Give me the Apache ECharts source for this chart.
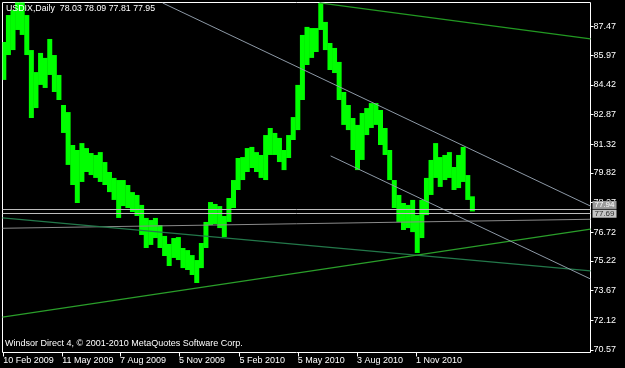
<!DOCTYPE html>
<html><head><meta charset="utf-8">
<script src="https://cdn.jsdelivr.net/npm/echarts@6/dist/echarts.min.js"></script>
<style>html,body{margin:0;padding:0;background:#000;}#c{width:625px;height:368px;}</style>
</head><body><div id="c"></div>
<script>
// ---- data (weekly ranges of the daily bars) ----
const weekDates = [
 '2009-02-11','2009-02-18','2009-02-25','2009-03-04','2009-03-11','2009-03-18','2009-03-25',
 '2009-04-01','2009-04-08','2009-04-15','2009-04-22','2009-04-29','2009-05-06','2009-05-13',
 '2009-05-20','2009-05-27','2009-06-03','2009-06-10','2009-06-17','2009-06-24','2009-07-01',
 '2009-07-08','2009-07-15','2009-07-22','2009-07-29','2009-08-05','2009-08-12','2009-08-19',
 '2009-08-26','2009-09-02','2009-09-09','2009-09-16','2009-09-23','2009-09-30','2009-10-07',
 '2009-10-14','2009-10-21','2009-10-28','2009-11-04','2009-11-11','2009-11-18','2009-11-25',
 '2009-12-02','2009-12-09','2009-12-16','2009-12-23','2009-12-30','2010-01-06','2010-01-13',
 '2010-01-20','2010-01-27','2010-02-03','2010-02-10','2010-02-17','2010-02-24','2010-03-03',
 '2010-03-10','2010-03-17','2010-03-24','2010-03-31','2010-04-07','2010-04-14','2010-04-21',
 '2010-04-28','2010-05-05','2010-05-12','2010-05-19','2010-05-26','2010-06-02','2010-06-09',
 '2010-06-16','2010-06-23','2010-06-30','2010-07-07','2010-07-14','2010-07-21','2010-07-28',
 '2010-08-04','2010-08-11','2010-08-18','2010-08-25','2010-09-01','2010-09-08','2010-09-15',
 '2010-09-22','2010-09-29','2010-10-06','2010-10-13','2010-10-20','2010-10-27','2010-11-03',
 '2010-11-10','2010-11-17','2010-11-24','2010-12-01','2010-12-08','2010-12-15','2010-12-22',
 '2010-12-29','2011-01-05','2011-01-12','2011-01-19','2011-01-26'
];
const weekHigh = [
 86.66,88.07,88.33,89.20,88.90,88.07,86.24,85.09,86.09,85.83,86.82,85.98,84.94,83.37,
 83.00,81.28,81.02,81.38,81.12,80.86,80.76,80.91,80.39,79.87,79.56,79.45,79.45,79.19,
 78.82,78.67,78.15,77.47,77.36,77.47,77.10,76.53,76.11,76.42,76.47,75.90,75.79,75.53,
 75.27,76.16,77.26,78.30,78.20,78.09,77.57,78.51,79.45,80.60,80.65,81.12,81.18,80.91,
 80.76,81.80,82.17,81.91,81.65,81.02,81.80,82.74,84.42,87.03,87.45,87.39,87.39,88.70,
 87.71,86.61,86.35,85.62,84.05,83.37,82.69,82.33,82.95,83.21,83.47,83.47,83.11,82.17,
 81.02,79.45,78.67,78.25,78.15,78.41,77.62,78.41,79.56,80.50,81.38,80.65,80.76,80.91,
 80.13,80.76,81.18,79.71,78.60
];
const weekLow = [
 84.68,85.98,86.24,87.29,87.03,85.98,82.69,83.21,84.42,84.26,84.94,84.05,83.63,81.91,
 80.24,79.19,78.25,79.35,79.87,79.71,79.56,79.35,79.19,78.82,78.41,77.47,78.09,77.99,
 77.78,77.57,76.58,75.90,76.06,76.42,75.90,75.48,74.96,75.38,75.27,74.85,74.75,74.49,
 74.07,74.85,75.90,77.10,77.15,76.94,76.47,77.26,77.99,78.93,79.45,79.87,80.08,79.87,
 79.56,79.45,80.76,80.76,80.39,79.97,80.60,81.54,82.06,83.63,85.46,85.83,86.14,87.29,
 86.24,85.20,85.04,83.63,82.33,82.06,81.02,79.97,80.50,81.80,82.17,82.33,81.28,80.76,
 79.45,77.99,77.26,76.84,76.94,76.73,75.64,76.42,77.62,78.67,79.56,79.09,79.45,79.56,
 78.93,79.03,79.35,78.41,77.81
];
const symbolTitle = 'USDIX,Daily';
const lastOHLC = ['78.03','78.09','77.81','77.95'];
const footerText = 'Windsor Direct 4, \u00A9 2001-2010 MetaQuotes Software Corp.';
const xTickDates = ['2009-02-10','2009-05-11','2009-08-07','2009-11-05','2010-02-05','2010-05-05','2010-08-03','2010-11-01'];
const yTickLabels = [70.57,72.12,73.67,75.22,76.72,78.27,79.82,81.32,82.87,84.42,85.97,87.47];
// trend lines (date, price) endpoints
const channelUpper = [['2009-10-11',88.70],['2011-07-25',78.09]];
const channelLower = [['2010-06-24',80.71],['2011-07-25',74.28]];
const greenTop     = [['2010-06-07',88.70],['2011-07-25',86.82]];
const greenFalling = [['2009-02-09',77.47],['2011-07-25',74.70]];
const greenRising  = [['2009-02-09',72.29],['2011-07-25',76.89]];
const greySloped   = [['2009-02-09',76.93],['2011-07-25',77.40]];
const hLevels = [77.94, 77.69];
const hLevelLabels = ['77.94','77.69'];

const MONTHS = ['Jan','Feb','Mar','Apr','May','Jun','Jul','Aug','Sep','Oct','Nov','Dec'];
const ts = s => { const [y,m,d] = s.split('-').map(Number); return new Date(y, m-1, d).getTime(); };
const toPts = arr => arr.map(p => [ts(p[0]), p[1]]);
const FONT = 'Liberation Sans';

const barData = weekDates.map((d,i) => [ts(d), weekLow[i], weekHigh[i]]);

function lineSeries(pts, color, width, z) {
  return { type:'line', data: toPts(pts), showSymbol:false, silent:true, z: z||5, clip:true,
    lineStyle:{color:color, width:width||1}, animation:false };
}

const levelLabelStyles = [
  { verticalAlign:'bottom', color:'#ffffff', backgroundColor:'#9c9c9c' },
  { verticalAlign:'middle', color:'#303030', backgroundColor:'#c6c6c6' }
];

const chart = echarts.init(document.getElementById('c'), null, {renderer:'canvas'});
chart.setOption({
  animation:false,
  backgroundColor:'#000000',
  title:{ text: symbolTitle + '  ' + lastOHLC.join(' '), left:6, top:4, padding:0,
    textStyle:{color:'#ffffff', fontSize:8.8, fontWeight:'normal', fontFamily:FONT} },
  graphic:[{ type:'text', left:5, top:339, silent:true,
    style:{ text: footerText, fill:'#ffffff', fontSize:9, fontFamily:FONT } }],
  grid:{ left:2.5, top:2.5, right:34.5, bottom:15.5, show:true, borderColor:'#ffffff', borderWidth:1, backgroundColor:'#000000' },
  xAxis:{ type:'value', min: ts('2009-02-09'), max: ts('2011-07-25'),
    axisLine:{show:false}, splitLine:{show:false},
    axisTick:{show:true, length:4, lineStyle:{color:'#ffffff'}, customValues: xTickDates.map(ts)},
    axisLabel:{ color:'#ffffff', fontSize:9, fontFamily:FONT, align:'left', margin:4,
      customValues: xTickDates.map(ts),
      formatter: v => { const d = new Date(v); return d.getDate()+' '+MONTHS[d.getMonth()]+' '+d.getFullYear(); } } },
  yAxis:{ type:'value', position:'right', min:70.44, max:88.725, scale:true,
    axisLine:{show:false}, splitLine:{show:false},
    axisTick:{show:true, length:3, lineStyle:{color:'#ffffff'}, customValues: yTickLabels},
    axisLabel:{ color:'#ffffff', fontSize:9, fontFamily:FONT, margin:3, customValues: yTickLabels,
      formatter: v => v.toFixed(2) } },
  series:[
    { type:'custom', data: barData, encode:{x:0, y:[1,2]}, z:2, silent:true,
      renderItem: (params, api) => {
        const x = api.value(0), lo = api.value(1), hi = api.value(2);
        const pHi = api.coord([x, hi]), pLo = api.coord([x, lo]);
        const w = api.size([7*864e5, 0])[0] + 0.4;
        const shape = echarts.graphic.clipRectByRect(
          {x: pHi[0]-w/2, y: pHi[1], width: w, height: Math.max(1, pLo[1]-pHi[1])},
          {x: params.coordSys.x, y: params.coordSys.y, width: params.coordSys.width, height: params.coordSys.height});
        if (!shape) return;
        return { type:'rect', shape: shape, style:{ fill:'#00ff00' } };
      } },
    lineSeries(greySloped, '#8a8a8a', 1, 4),
    Object.assign(lineSeries(greenFalling, '#23784a', 1.3, 4), {
      markLine:{ symbol:['none','none'], silent:true, animation:false,
        lineStyle:{color:'#bdbdbd', width:1, type:'solid'},
        label:{ show:true, position:'end', distance:2, fontSize:8, lineHeight:8, fontFamily:FONT,
          padding:[0,2,0,2] },
        data: hLevels.map((v,i) => ({ yAxis:v,
          label: Object.assign({ formatter: hLevelLabels[i] }, levelLabelStyles[i]) })) } }),
    lineSeries(greenRising, '#2a9e2a', 1.3, 4),
    lineSeries(greenTop, '#229922', 1.3, 4),
    lineSeries(channelUpper, '#8d99a6', 1, 4),
    lineSeries(channelLower, '#8d99a6', 1, 4)
  ]
});
</script></body></html>
